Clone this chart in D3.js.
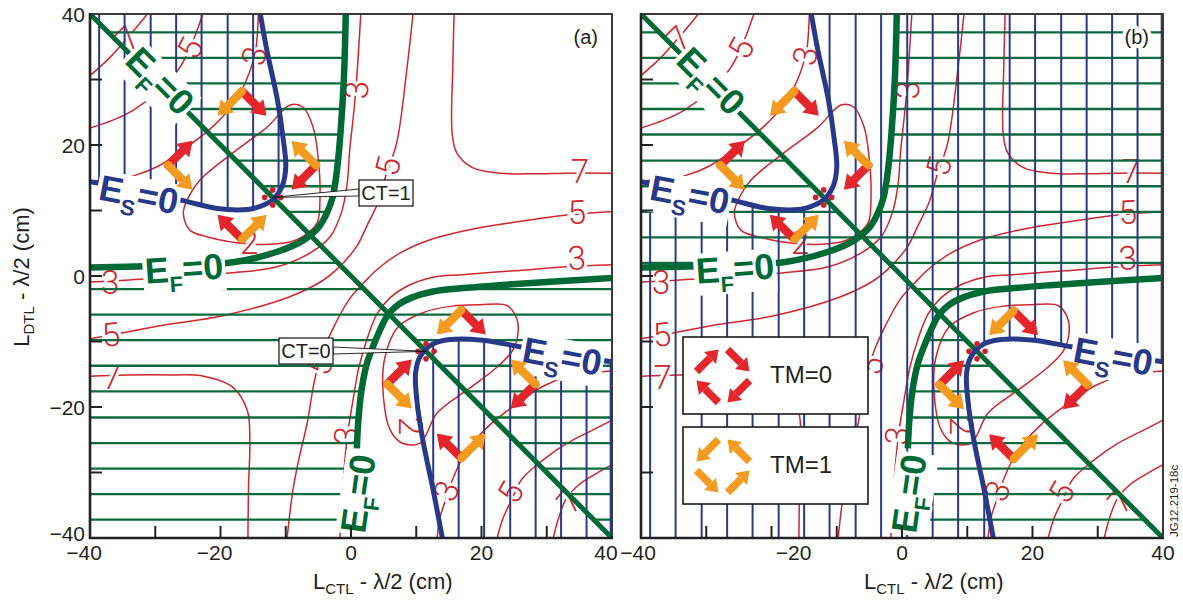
<!DOCTYPE html>
<html><head><meta charset="utf-8">
<script src="https://cdn.jsdelivr.net/npm/d3@7"></script>
<style>
html,body{margin:0;padding:0;background:#fff;}
svg{display:block;font-family:"Liberation Sans",Arial,Helvetica,sans-serif;}
</style></head><body>
<svg id="chart" width="1183" height="602"></svg>
<script>
// ---------------- data ----------------
const tickValues = [-30,-20,-10,0,10,20,30];
const tickLabels = [-40,-20,0,20,40];
const hatchY = [37.2,33.3,29.4,25.5,21.6,17.6,13.7,9.8,5.9,2.0,-2.0,-5.9,-9.8,-13.7,-17.6,-21.6,-25.5,-29.4,-33.3,-37.2];
const hatchX = [-38.6,-34.7,-30.7,-26.8,-22.9,-18.9,-15.0,-11.1,-7.1,-3.2,0.8,4.7,8.6,12.6,16.5,20.4,24.4,28.3,32.2,36.1,39.8];

// E_F = 0 curves
const efUpper = [[-0.8,40],[-1.1,30],[-1.6,22],[-2.1,16.6],[-2.8,12.1],[-3.7,9.6],[-5.0,7.4],[-7.4,5.4],[-11.3,3.7],[-18.1,2.1],[-28,1.6],[-40,1.3]];
const efLower = [[40,-0.3],[30,-0.9],[22.7,-1.4],[17.8,-1.8],[12.4,-2.4],[9.3,-3.3],[7.2,-4.4],[5.6,-6.0],[4.2,-8.8],[3.2,-11.2],[2.4,-13.5],[1.6,-17.5],[1.1,-22.4],[0.9,-26.3]];
const efDiagonal = [[-40,40],[40,-40]];
// E_S = 0 curves
const esUpper = [[-13.9,40],[-12.9,34.5],[-11.3,27],[-10.4,21],[-10.0,16.6],[-10.6,13.6],[-12.3,11.4],[-14.6,10.4],[-16.5,10.1],[-20.5,10.3],[-25.7,11.5],[-32,13],[-40,14.4]];
const esLower = [[14,-40],[12.6,-32.7],[11,-25],[10.1,-19],[9.9,-14.8],[10.6,-12.3],[12.5,-10.4],[15.2,-9.7],[20.2,-9.8],[25.9,-10.8],[32,-11.9],[40,-13.1]];

// red contour lines
const c7UL = [[-40,30.6],[-37,33.3],[-34.2,36.4],[-31.2,40]];
const c5UL = [[-40,22.6],[-36.5,23.8],[-33.4,25.3],[-29.3,28.4],[-26.2,31.9],[-24.5,35.2],[-22.7,40]];
const c3UL = [[-40,14.5],[-36.5,14.8],[-33,15.4],[-29.5,16.8],[-26.4,18.8],[-21.2,22.8],[-17.6,26.9],[-15.6,31],[-14.6,34.5],[-14.2,40]];
const c3ULc = [[-40,-0.9],[-34,-0.6],[-27,-0.1],[-18.1,0.5],[-11.3,1.4],[-6.3,3.5],[-3.2,6],[-1.5,9.6],[-0.6,14],[-0.2,19.2],[0.5,25.8],[1,32],[1.5,40]];
const c3LRc = [[40,1.7],[33,1.4],[25,0.8],[17,0.2],[12.6,-0.2],[8.5,-1.6],[6,-3.3],[4,-5.8],[2.5,-9.5],[1.2,-14],[0.3,-19],[-0.5,-24],[-1.1,-30],[-1.7,-40]];
const c5a = [[-40,-9.6],[-35.1,-8.7],[-28.2,-7.4],[-19.8,-6.1],[-9.5,-3.2],[-4.5,-0.8],[-2.3,0.9],[0.8,4.4],[2.6,8],[4.1,11.1],[5.4,15.5],[7,20.3],[8.6,31.9],[9.5,40]];
const c5b = [[40,9.8],[36.5,9.6],[33.1,9.3],[25,8.2],[17.8,7],[12,5.5],[7.5,3.5],[4,1],[2,-1],[-0.3,-3.6],[-2.5,-7.5],[-4.3,-11.5],[-5.6,-16],[-6.7,-22.4],[-8,-28],[-8.9,-32.7],[-9.8,-40]];
const c7UR = [[15.8,40],[15.6,31.9],[15.5,21.8],[16.2,18.8],[18.7,16.5],[22.8,15.7],[27.9,15.6],[33.1,15.7],[40,15.7]];
const c7LL = [[-40,-15.3],[-34.3,-15.1],[-27,-15.1],[-23.1,-15.2],[-18.1,-17],[-15.9,-20.5],[-15.5,-25],[-15.7,-32],[-15.8,-40]];
const c3LR = [[40,-14.5],[36.5,-14.8],[33,-15.4],[29.5,-16.8],[26.4,-18.8],[21.2,-22.8],[17.6,-26.9],[15.6,-31],[14.4,-34.5],[13.6,-37],[13.2,-40]];
const c5LR = [[40,-22],[36.5,-23.8],[33,-25.6],[29.3,-28.2],[26.2,-31],[24.6,-34.2],[23.3,-37],[22.4,-40]];
const c7LR = [[40,-28.8],[37.5,-30.2],[35,-31.8],[33,-34],[31.8,-37],[31,-40]];
const c2ULloop = [[-9.35,26.1],[-7.4,25.8],[-5.8,22.7],[-5,17.7],[-4.75,12.1],[-5.2,8.1],[-7.4,6],[-9.35,5.2],[-15.7,4.9],[-22.1,6],[-24.7,7],[-25.7,9.6],[-25.1,11.6],[-23.1,14.7],[-18.1,18.8],[-12.9,22.7]];
const c2LRloop = [[11,-5.6],[15.5,-4.6],[19.8,-4.4],[23.9,-4.5],[25.4,-6.5],[25.6,-8.7],[24.8,-11.3],[22.4,-13.9],[17.8,-17.4],[13.2,-20.9],[10.6,-25.5],[7.8,-25.5],[6,-23.5],[4.9,-17.4],[5.2,-12.4],[7.2,-7.8]];
const openContours = [c7UL,c5UL,c3UL,c3ULc,c3LRc,c5a,c5b,c7UR,c7LL,c3LR,c5LR,c7LR];
const closedContours = [c2ULloop,c2LRloop];
// contour labels: text, x, y, angle
const contourLabels = [
  ["7",-34.2,36.3,-45],["5",-24.7,34.8,-62],["3",-14.9,33.6,-80],["2",-15.6,5.2,0],
  ["3",-36.9,-1.0,0],["3",0.8,28.4,-88],
  ["5",-36.8,-8.9,-6],["5",5.6,16.8,-75],
  ["5",34.6,9.8,-3],["5",-4.8,-13.6,-72],
  ["7",35.1,16.0,0],["7",-36.7,-15.5,0],
  ["3",34.6,2.8,-3],["3",-0.8,-24.4,-85],
  ["2",9.2,-22.9,90],["3",14.6,-32.8,-68],["5",24.4,-33.0,-60],["7",33.4,-34.3,-50]
];
// CT points
const ctPoints = [[-12,12],[11.5,-11.5]];
const ctNames = ["CT=1","CT=0"];
// arrow group centres per panel
const arrowGroupsA = [[-16.7,16.9],[16.9,-16.5]];
const arrowGroupsB = [[-16.5,16.9],[17.1,-16.6]];
const legendNames = ["TM=0","TM=1"];

// ---------------- style ----------------
const GREEN = "#006a37", HGREEN = "#0d6a3c", NAVY = "#29398a", RLINE = "#d0262d",
      ARED = "#e3262b", ORANGE = "#f39a20", INK = "#231f20", DOT = "#c9222a";

const svg = d3.select("#chart");
const defs = svg.append("defs");
const yS = d3.scaleLinear().domain([-40,40]).range([538,14]);
const panels = [
  {key:"a", xS:d3.scaleLinear().domain([-40,40]).range([90,612]), arrows:arrowGroupsA},
  {key:"b", xS:d3.scaleLinear().domain([-40,40]).range([641,1163]), arrows:arrowGroupsB}
];

function arrowParts(x1,y1,x2,y2,headW,headL){
  const dx=x2-x1, dy=y2-y1, L=Math.hypot(dx,dy), ux=dx/L, uy=dy/L, nx=-uy, ny=ux;
  const bx=x2-ux*headL, by=y2-uy*headL;
  return {bx,by,head:`M${x2},${y2}L${bx+nx*headW/2},${by+ny*headW/2}L${bx-nx*headW/2},${by-ny*headW/2}Z`};
}
function drawArrow(g,x1,y1,x2,y2,color,shaftW,headW,headL,cap){
  const p = arrowParts(x1,y1,x2,y2,headW,headL);
  g.append("line").attr("x1",x1).attr("y1",y1).attr("x2",p.bx).attr("y2",p.by)
    .attr("stroke",color).attr("stroke-width",shaftW).attr("stroke-linecap",cap);
  g.append("path").attr("d",p.head).attr("fill",color);
}
function bigLabel(g,cx,cy,ang,sub,color){
  const lab = g.append("g").attr("transform",`translate(${cx},${cy}) rotate(${ang})`);
  const t = lab.append("text").attr("text-anchor","middle").attr("y",13)
    .attr("font-weight","bold").attr("font-size",36)
    .attr("fill",color).attr("stroke","#fff").attr("stroke-width",5)
    .attr("stroke-linejoin","round").attr("paint-order","stroke");
  t.append("tspan").text("E");
  t.append("tspan").attr("font-size",22).attr("dy",10).text(sub);
  t.append("tspan").attr("dy",-10).text("=0");
  const bb = t.node().getBBox();
  lab.insert("rect","text").attr("x",bb.x-2).attr("y",-17).attr("width",bb.width+4).attr("height",42)
    .attr("fill","#fff");
}
function makeMask(id,d){
  defs.append("mask").attr("id",id).attr("maskUnits","userSpaceOnUse")
    .attr("x",0).attr("y",0).attr("width",1183).attr("height",602)
    .append("path").attr("d",d).attr("fill","#fff").attr("fill-rule","evenodd");
}

panels.forEach(P => {
  const xS = P.xS;
  const X0=xS(-40), X1=xS(40), Y0=yS(40), Y1=yS(-40);
  const pt = p => xS(p[0])+","+yS(p[1]);
  const smooth = d3.line().x(d=>xS(d[0])).y(d=>yS(d[1])).curve(d3.curveCatmullRom.alpha(0.5));
  const smoothClosed = d3.line().x(d=>xS(d[0])).y(d=>yS(d[1])).curve(d3.curveCatmullRomClosed.alpha(0.5));
  const g = svg.append("g");

  defs.append("clipPath").attr("id","frame"+P.key).append("rect")
    .attr("x",X0).attr("y",Y0).attr("width",X1-X0).attr("height",Y1-Y0);

  // regions (sign changes across every zero line -> even-odd combination)
  const ulIn = smooth(efUpper)+"L"+pt([-40,40])+"Z";
  const lastLow = efLower[efLower.length-1];
  const lrIn = smooth(efLower)+"L"+pt([lastLow[0],-40])+"L"+pt([40,-40])+"Z";
  const above = "M"+pt([-40,40])+"L"+pt([40,40])+"L"+pt([40,-40])+"Z";
  const below = "M"+pt([-40,40])+"L"+pt([-40,-40])+"L"+pt([40,-40])+"Z";
  const esUlIn = smooth(esUpper)+"L"+pt([-40,40])+"Z";
  const esLrIn = smooth(esLower)+"L"+pt([40,-40])+"Z";
  const frameR = "M"+pt([-40,40])+"L"+pt([40,40])+"L"+pt([40,-40])+"L"+pt([-40,-40])+"Z";
  makeMask("gr"+P.key, (P.key==="a"?below:above)+ulIn+lrIn);
  makeMask("bl"+P.key, P.key==="a" ? esUlIn+esLrIn : frameR+esUlIn+esLrIn);

  // contours
  const cg = g.append("g").attr("clip-path",`url(#frame${P.key})`);
  cg.selectAll("path.o").data(openContours).join("path").attr("d",smooth)
    .attr("fill","none").attr("stroke",RLINE).attr("stroke-width",1.5);
  cg.selectAll("path.c").data(closedContours).join("path").attr("d",smoothClosed)
    .attr("fill","none").attr("stroke",RLINE).attr("stroke-width",1.5);
  cg.selectAll("text").data(contourLabels).join("text")
    .attr("transform",d=>`translate(${xS(d[1])},${yS(d[2])}) rotate(${d[3]})`)
    .attr("text-anchor","middle").attr("dy","0.36em")
    .attr("font-family","Roboto, Lato, sans-serif").attr("font-weight",300).attr("font-size",33)
    .attr("fill",RLINE).attr("stroke","#fff").attr("stroke-width",6).attr("paint-order","stroke")
    .text(d=>d[0]);

  // hatching
  g.append("g").attr("mask",`url(#gr${P.key})`).selectAll("line").data(hatchY).join("line")
    .attr("x1",X0).attr("x2",X1).attr("y1",d=>yS(d)).attr("y2",d=>yS(d))
    .attr("stroke",HGREEN).attr("stroke-width",2.3);
  g.append("g").attr("mask",`url(#bl${P.key})`).selectAll("line").data(hatchX).join("line")
    .attr("y1",Y0).attr("y2",Y1).attr("x1",d=>xS(d)).attr("x2",d=>xS(d))
    .attr("stroke",NAVY).attr("stroke-width",2);

  // E_F and E_S curves
  const fg = g.append("g").attr("clip-path",`url(#frame${P.key})`);
  fg.append("path").attr("d",smooth(efUpper)).attr("fill","none").attr("stroke",GREEN).attr("stroke-width",6.5);
  fg.append("path").attr("d",smooth(efLower)).attr("fill","none").attr("stroke",GREEN).attr("stroke-width",6.5);
  fg.append("path").attr("d",d3.line().x(d=>xS(d[0])).y(d=>yS(d[1]))(efDiagonal)).attr("fill","none").attr("stroke",GREEN).attr("stroke-width",5);
  fg.append("path").attr("d",smooth(esUpper)).attr("fill","none").attr("stroke",NAVY).attr("stroke-width",5);
  fg.append("path").attr("d",smooth(esLower)).attr("fill","none").attr("stroke",NAVY).attr("stroke-width",5);

  // CT dot clusters
  ctPoints.forEach(c => {
    const cx=xS(c[0]), cy=yS(c[1]);
    [[0,-7.5],[8,0],[0,7.5],[-8,0]].forEach(o => g.append("circle").attr("cx",cx+o[0]).attr("cy",cy+o[1]).attr("r",2.8).attr("fill",DOT));
  });

  // big labels
  const lg = g.append("g").attr("clip-path",`url(#frame${P.key})`);
  bigLabel(lg,xS(-29.2),yS(29.8),45,"F",GREEN);
  bigLabel(lg,xS(-25.6),yS(1.2),-4,"F",GREEN);
  bigLabel(lg,xS(1.0),yS(-33.2),-82,"F",GREEN);
  bigLabel(lg,xS(-32.5),yS(12.5),11,"S",NAVY);
  bigLabel(lg,xS(32.4),yS(-12.2),10.5,"S",NAVY);

  // bent double arrows
  const A = 24.5;
  const bent = [
    {o:[0,-74], arms:[[ 1, 1,ARED],[-1, 1,ORANGE]]},
    {o:[-74,0], arms:[[ 1,-1,ARED],[ 1, 1,ORANGE]]},
    {o:[74,0],  arms:[[-1, 1,ARED],[-1,-1,ORANGE]]},
    {o:[0,74],  arms:[[-1,-1,ARED],[ 1,-1,ORANGE]]}
  ];
  const ag = g.append("g");
  P.arrows.forEach(c => {
    const cx=xS(c[0]), cy=yS(c[1]);
    bent.forEach(b => {
      const jx=cx+b.o[0], jy=cy+b.o[1];
      b.arms.forEach(a => drawArrow(ag,jx,jy,jx+a[0]*A,jy+a[1]*A,a[2],8.5,19,14,"round"));
    });
  });

  // frame & ticks
  g.append("rect").attr("x",X0).attr("y",Y0).attr("width",X1-X0).attr("height",Y1-Y0)
    .attr("fill","none").attr("stroke","#3a3a3a").attr("stroke-width",2);
  g.append("line").attr("x1",X0).attr("x2",X0).attr("y1",Y0-1).attr("y2",Y1+1).attr("stroke","#222").attr("stroke-width",2.6);
  g.append("line").attr("x1",X0-1).attr("x2",X1+1).attr("y1",Y1).attr("y2",Y1).attr("stroke","#222").attr("stroke-width",2.6);
  g.selectAll("line.xt").data(tickValues).join("line").attr("class","xt")
    .attr("x1",d=>xS(d)).attr("x2",d=>xS(d)).attr("y1",Y1).attr("y2",Y1-12).attr("stroke","#222").attr("stroke-width",2);
  g.selectAll("line.yt").data(tickValues).join("line").attr("class","yt")
    .attr("y1",d=>yS(d)).attr("y2",d=>yS(d)).attr("x1",X0).attr("x2",X0+12).attr("stroke","#222").attr("stroke-width",2);

  // panel letter
  g.append("text").attr("x",X1-14).attr("y",44).attr("text-anchor","end").attr("font-size",20).attr("fill",INK)
    .attr("stroke","#fff").attr("stroke-width",8).attr("paint-order","stroke").attr("stroke-linejoin","round")
    .text(`(${P.key})`);

  // tick labels
  const shift = d => (d<0?-6:0) + (P.key==="b"&&d===-20?28:0) + (P.key==="b"&&d===-40?3:0) + (P.key==="a"&&d===40?-6:0);
  g.selectAll("text.xl").data(tickLabels).join("text").attr("class","xl")
    .attr("x",d=>xS(d)+shift(d))
    .attr("y",560).attr("text-anchor","middle").attr("font-size",21).attr("fill",INK)
    .text(d=>d<0?"\u2212"+Math.abs(d):d);
  if (P.key==="a") {
    g.selectAll("text.yl").data(tickLabels).join("text").attr("class","yl")
      .attr("x",85).attr("y",d=>yS(d)+(d===-40?-5:0)).attr("dy","0.36em").attr("text-anchor","end")
      .attr("font-size",21).attr("fill",INK).text(d=>d<0?"\u2212"+Math.abs(d):d);
  }
  // x title
  const xt = g.append("text").attr("x",X0+223).attr("y",589).attr("font-size",22).attr("fill",INK);
  xt.append("tspan").text("L");
  xt.append("tspan").attr("font-size",15).attr("dy",5).text("CTL");
  xt.append("tspan").attr("dy",-5).text(" - \u03bb/2 (cm)");

  // CT boxes (panel a only)
  if (P.key==="a") {
    const boxes = [{x:359,y:180},{x:279,y:338}];
    ctPoints.forEach((c,i) => {
      const cx=xS(c[0]), cy=yS(c[1]), b=boxes[i], w=54, h=26;
      const ex = i===0 ? b.x : b.x+w;
      g.append("path").attr("d",`M${cx},${cy}L${ex},${b.y+h/2-4}L${ex},${b.y+h/2+3}Z`)
        .attr("fill","#fff").attr("stroke","#111").attr("stroke-width",0.9);
      g.append("rect").attr("x",b.x).attr("y",b.y).attr("width",w).attr("height",h)
        .attr("fill","#fff").attr("stroke","#111").attr("stroke-width",1.2);
      g.append("text").attr("x",b.x+w/2).attr("y",b.y+h/2).attr("dy","0.36em").attr("text-anchor","middle")
        .attr("font-size",20).attr("fill",INK).text(ctNames[i]);
    });
  }

  // legend (panel b only)
  if (P.key==="b") {
    const lgd = g.append("g");
    legendNames.forEach((name,i) => {
      const by = 337 + i*90;
      lgd.append("rect").attr("x",683).attr("y",by).attr("width",185).attr("height",77)
        .attr("fill","#fff").attr("stroke","#1a1a1a").attr("stroke-width",1.6);
      const cx=723, cy=by+39, color = i===0?ARED:ORANGE;
      const dirs = i===0 ? [[-1,-1,1,-1],[1,-1,1,1],[1,1,-1,1],[-1,1,-1,-1]]
                         : [[-1,-1,-1,1],[1,-1,-1,-1],[1,1,1,-1],[-1,1,1,1]];
      dirs.forEach(d => {
        const mx=cx+d[0]*15.5, my=cy+d[1]*15.5, h=11;
        drawArrow(lgd,mx-d[2]*h,my-d[3]*h,mx+d[2]*h,my+d[3]*h,color,7.5,17,12,"butt");
      });
      lgd.append("text").attr("x",770).attr("y",by+46).attr("font-size",24).attr("fill",INK).text(name);
    });
    g.append("text").attr("transform","translate(1178,537) rotate(-90)").attr("font-size",11.5).attr("fill",INK).text("JG12.219-18c");
  }
});

// y title
const yt = svg.append("text").attr("transform","translate(29,277) rotate(-90)").attr("text-anchor","middle")
  .attr("font-size",22).attr("fill",INK);
yt.append("tspan").text("L");
yt.append("tspan").attr("font-size",15).attr("dy",5).text("DTL");
yt.append("tspan").attr("dy",-5).text(" - \u03bb/2 (cm)");
</script>
</body></html>
